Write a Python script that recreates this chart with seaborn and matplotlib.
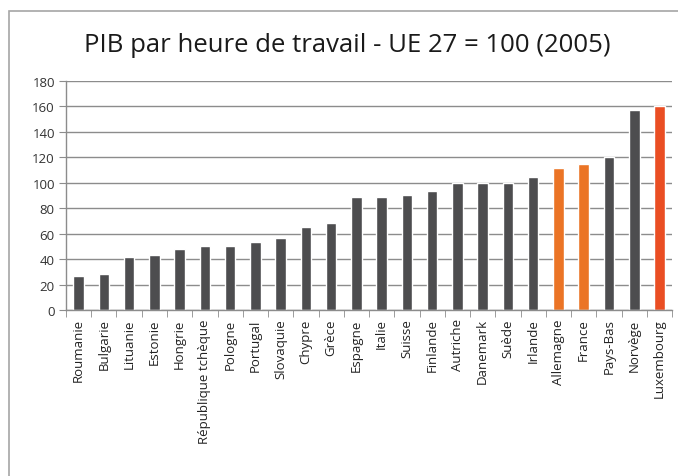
import pandas as pd
import matplotlib
matplotlib.use("Agg")
import matplotlib.pyplot as plt
import seaborn as sns
from matplotlib.patches import Rectangle

# ------------------------------
# Data
# ------------------------------
countries = ["Roumanie", "Bulgarie", "Lituanie", "Estonie", "Hongrie", "République tchèque",
             "Pologne", "Portugal", "Slovaquie", "Chypre", "Grèce", "Espagne", "Italie",
             "Suisse", "Finlande", "Autriche", "Danemark", "Suède", "Irlande", "Allemagne",
             "France", "Pays-Bas", "Norvège", "Luxembourg"]
pib_heure = [27, 28.5, 42, 43, 48, 50.5, 50.5, 53.5, 56.5, 65.5, 68.5, 88.5, 88.5,
             90.5, 93.5, 99.7, 100, 100, 104.5, 111.5, 114.5, 120.5, 157.5, 160]
highlight = {"Allemagne": "#EB7425", "France": "#EB7425", "Luxembourg": "#EA4E23"}
base_color = "#4D4D4F"

df = pd.DataFrame({"pays": countries, "valeur": pib_heure})
palette = {c: highlight.get(c, base_color) for c in countries}

# ------------------------------
# Plot
# ------------------------------
sns.set_style("white")
plt.rcParams["font.family"] = ["Open Sans", "DejaVu Sans"]

fig = plt.figure(figsize=(6.78, 4.77), dpi=100)
ax = fig.add_axes([0.0973, 0.348, 0.894, 0.48])

sns.barplot(data=df, x="pays", y="valeur", hue="pays", palette=palette,
            width=0.42, saturation=1, legend=False, ax=ax)

ax.set_ylim(0, 180)
ax.set_yticks(range(0, 181, 20))
ax.set_xlim(-0.5, len(countries) - 0.5)
ax.yaxis.grid(True, color="#8C8C8C", linewidth=1)
ax.set_axisbelow(True)
ax.set_xlabel("")
ax.set_ylabel("")

for side in ["top", "right"]:
    ax.spines[side].set_visible(False)
for side in ["left", "bottom"]:
    ax.spines[side].set_color("#8C8C8C")
    ax.spines[side].set_linewidth(1)

# Excel-style category ticks between bars
ax.set_xticks(range(len(countries)))
ax.set_xticklabels(countries, rotation=90, fontsize=9.5, color="#222222")
ax.set_xticks([i - 0.5 for i in range(len(countries) + 1)], minor=True)
ax.tick_params(axis="x", which="major", length=0, pad=6)
ax.tick_params(axis="x", which="minor", length=5, color="#8C8C8C", direction="out", bottom=True)
ax.tick_params(axis="y", length=5, color="#8C8C8C", direction="out", left=True,
               labelsize=9.5, labelcolor="#333333", pad=3)

fig.suptitle("PIB par heure de travail - UE 27 = 100 (2005)", x=0.512, y=0.93,
             fontsize=18.5, color="#1a1a1a")

# light frame around the chart area
fig.patches.append(Rectangle((9 / 678, -0.05), 1.1, 1 - 12 / 477 + 0.05,
                             transform=fig.transFigure, fill=False,
                             edgecolor="#A6A6A6", linewidth=1.2))

fig.savefig("out.png", dpi=100, facecolor="white")
